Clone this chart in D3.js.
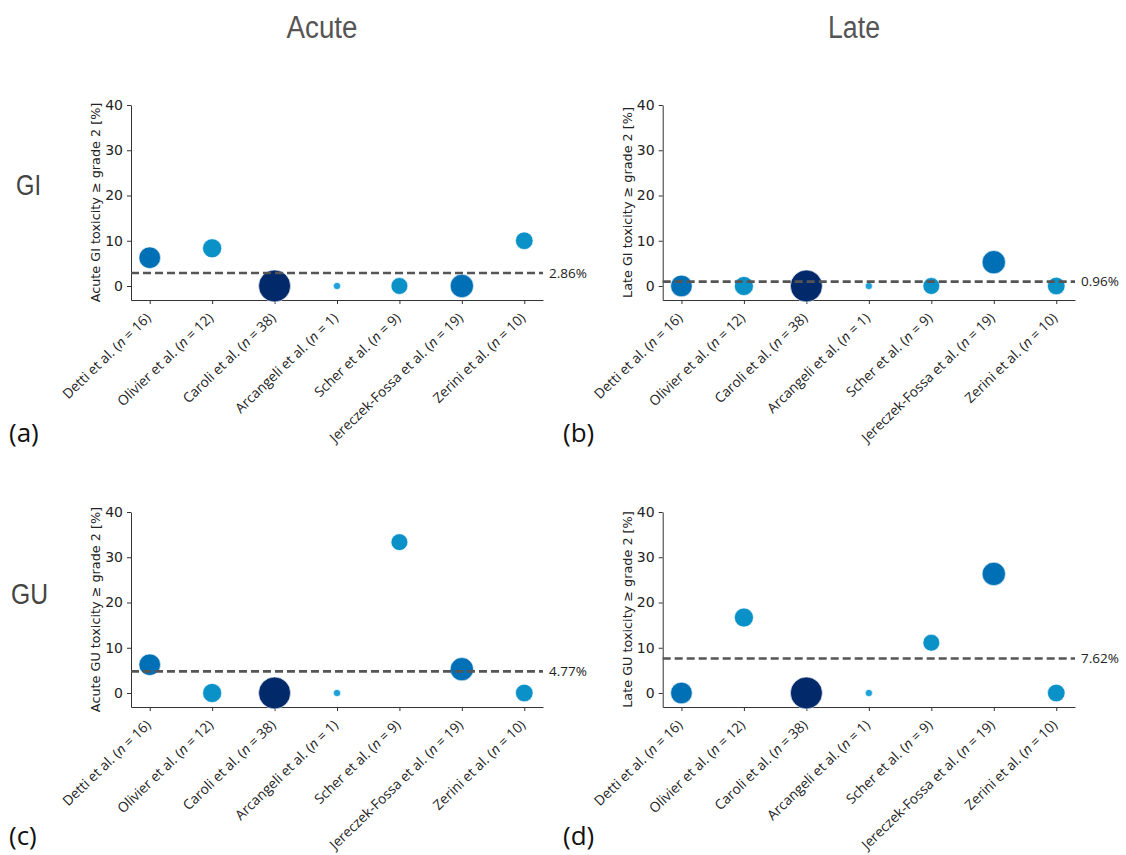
<!DOCTYPE html>
<html>
<head>
<meta charset="utf-8">
<script src="https://cdn.jsdelivr.net/npm/d3@7"></script>
<style>
  html, body { margin: 0; padding: 0; background: #fff; }
  svg { display: block; }
</style>
</head>
<body>
<svg id="chart" width="1126" height="855"></svg>
<script>
// ---------------- data ----------------
const studies = ["Detti et al.", "Olivier et al.", "Caroli et al.", "Arcangeli et  al.", "Scher et al.", "Jereczek-Fossa et al.", "Zerini et al."];
const nPatients = [16, 12, 38, 1, 9, 19, 10];
const acuteGI = [6.25, 8.33, 0, 0, 0, 0, 10];
const lateGI  = [0, 0, 0, 0, 0, 5.26, 0];
const acuteGU = [6.25, 0, 0, 0, 33.33, 5.26, 0];
const lateGU  = [0, 16.67, 0, 0, 11.11, 26.32, 0];
const meanValues = [2.86, 0.96, 4.77, 7.62];
const meanLabels = ["2.86%", "0.96%", "4.77%", "7.62%"];
const yTickValues = [0, 10, 20, 30, 40];
const yAxisTitles = [
  "Acute GI toxicity \u2265 grade 2 [%]",
  "Late GI toxicity \u2265 grade 2 [%]",
  "Acute GU toxicity \u2265 grade 2 [%]",
  "Late GU toxicity \u2265 grade 2 [%]"
];
const panelLetters = ["(a)", "(b)", "(c)", "(d)"];
const columnTitles = ["Acute", "Late"];
const rowTitles = ["GI", "GU"];

// ---------------- layout ----------------
const svg = d3.select("#chart");
const panels = [
  { x0: 131, x1: 543, top: 105, values: acuteGI, letterY: 442 },
  { x0: 662.7, x1: 1075, top: 105, values: lateGI, letterY: 442 },
  { x0: 131, x1: 543, top: 512, values: acuteGU, letterY: 845 },
  { x0: 662.7, x1: 1075, top: 512, values: lateGU, letterY: 845 }
];
const plotH40 = 181;          // pixels from 0 to 40
const yMin = -3.1;

const rScale = d3.scaleSqrt().domain([0, 38]).range([1.2, 16]);
const colorScale = d3.scaleThreshold().domain([5, 14, 30])
  .range(["#1ea2da", "#0a91c8", "#0070b6", "#022a6b"]);

panels.forEach((p, i) => {
  const bottom = p.top + plotH40 * (40 - yMin) / 40;
  const x = d3.scalePoint().domain(studies).range([p.x0, p.x1]).padding(0.3);
  const y = d3.scaleLinear().domain([yMin, 40]).range([bottom, p.top]);
  const g = svg.append("g");

  // y axis
  const ya = g.append("g").attr("transform", `translate(${p.x0},0)`)
    .call(d3.axisLeft(y).tickValues(yTickValues).tickSize(4).tickSizeOuter(0).tickPadding(4));
  ya.selectAll("text").attr("font-family", "DejaVu Sans").attr("font-size", 14).attr("fill", "#222");
  ya.selectAll("line,path").attr("stroke", "#333");

  // x axis
  const xa = g.append("g").attr("transform", `translate(0,${bottom})`)
    .call(d3.axisBottom(x).tickSize(4).tickSizeOuter(0).tickFormat(""));
  xa.selectAll("line,path").attr("stroke", "#333");

  // x labels
  studies.forEach((s, k) => {
    const t = g.append("text")
      .attr("transform", `translate(${x(s) + 2},${bottom + 19}) rotate(-44)`)
      .attr("text-anchor", "end")
      .attr("font-family", "Open Sans, DejaVu Sans, sans-serif")
      .attr("font-size", 13.8)
      .attr("fill", "#222");
    t.append("tspan").text(s + " (");
    t.append("tspan").attr("font-style", "italic").text("n");
    t.append("tspan").text(" = " + nPatients[k] + ")");
  });

  // y title
  g.append("text")
    .attr("transform", `translate(${p.x0 - 31},${(p.top + bottom) / 2}) rotate(-90)`)
    .attr("text-anchor", "middle")
    .attr("font-family", "DejaVu Sans")
    .attr("font-size", 12.8)
    .attr("fill", "#222")
    .text(yAxisTitles[i]);

  // bubbles
  g.append("g").selectAll("circle")
    .data(studies.map((s, k) => ({ s, n: nPatients[k], v: p.values[k] })))
    .join("circle")
    .attr("cx", d => x(d.s))
    .attr("cy", d => y(d.v))
    .attr("r", d => rScale(d.n))
    .attr("fill", d => colorScale(d.n))
    .attr("stroke", "#fff")
    .attr("stroke-width", 0.6);

  // mean line
  g.append("line")
    .attr("x1", p.x0).attr("x2", p.x1)
    .attr("y1", y(meanValues[i])).attr("y2", y(meanValues[i]))
    .attr("stroke", "#555").attr("stroke-width", 2.6)
    .attr("stroke-dasharray", "8,4");
  g.append("text")
    .attr("x", p.x1 + 6).attr("y", y(meanValues[i]))
    .attr("dy", "0.35em")
    .attr("font-family", "Open Sans, DejaVu Sans, sans-serif")
    .attr("font-size", 13.5)
    .attr("fill", "#222")
    .text(meanLabels[i]);

  // panel letter
  g.append("text")
    .attr("x", p.x0 < 300 ? 9 : 563)
    .attr("y", p.letterY)
    .attr("font-family", "Open Sans, Liberation Sans, sans-serif")
    .attr("font-size", 26)
    .attr("fill", "#111")
    .text(panelLetters[i]);
});

// column titles
const colX = [322, 854];
const colW = [71, 52];
columnTitles.forEach((t, i) => {
  svg.append("text")
    .attr("x", colX[i] - colW[i] / 2).attr("y", 38)
    .attr("font-family", "Liberation Sans, Arial, sans-serif")
    .attr("font-size", 31)
    .attr("textLength", colW[i])
    .attr("lengthAdjust", "spacingAndGlyphs")
    .attr("fill", "#555")
    .text(t);
});

// row titles
const rowY = [195, 604];
const rowX = [16, 11];
const rowW = [25, 37];
rowTitles.forEach((t, i) => {
  svg.append("text")
    .attr("x", rowX[i]).attr("y", rowY[i])
    .attr("font-family", "Liberation Sans, Arial, sans-serif")
    .attr("font-size", 29)
    .attr("textLength", rowW[i])
    .attr("lengthAdjust", "spacingAndGlyphs")
    .attr("fill", "#444")
    .text(t);
});
</script>
</body>
</html>
